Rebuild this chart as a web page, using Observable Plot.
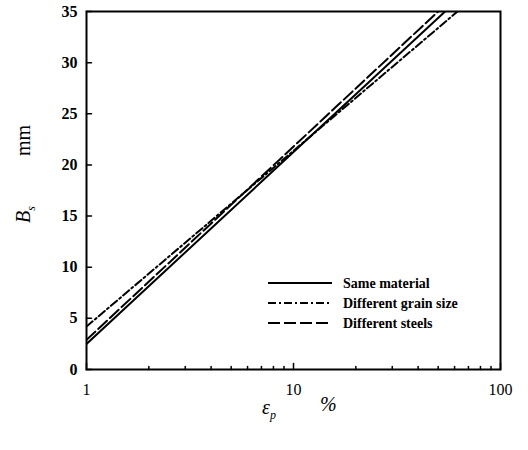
<!DOCTYPE html>
<html><head><meta charset="utf-8">
<script src="https://cdn.jsdelivr.net/npm/d3@7"></script>
<script src="https://cdn.jsdelivr.net/npm/@observablehq/plot@0.6"></script>
<style>body{margin:0;background:#fff}</style>
</head><body><div id="chart"></div>
<script>
const seriesNames = ["Same material", "Different grain size", "Different steels"];
const strainX = {
  "Same material": [1, 54],
  "Different grain size": [1, 62],
  "Different steels": [1, 50]
};
const widthBs = {
  "Same material": [2.5, 35],
  "Different grain size": [4.2, 35],
  "Different steels": [2.9, 35]
};
const dashes = {
  "Same material": null,
  "Different grain size": "8,3,2,3",
  "Different steels": "12,4"
};
const xTicks = [1, 10, 100];
const xMinor = [2,3,4,5,6,7,8,9,20,30,40,50,60,70,80,90];
const yTicks = [0, 5, 10, 15, 20, 25, 30, 35];

const rows = [];
for (const s of seriesNames) strainX[s].forEach((x, i) => rows.push({series: s, x, y: widthBs[s][i]}));

const font = "Liberation Serif, DejaVu Serif, serif";
const tickShape = {draw(ctx, l) { ctx.moveTo(0, 0); ctx.lineTo(0, -l); }};
const marks = [];
for (const s of seriesNames) {
  marks.push(Plot.line(rows.filter(d => d.series === s), {x: "x", y: "y", stroke: "black", strokeWidth: 2, strokeDasharray: dashes[s], clip: true}));
}
marks.push(
  Plot.axisX({ticks: xTicks, tickSize: 0, tickFormat: d => String(d), fontSize: 16, tickPadding: 14, anchor: "bottom"}),
  Plot.vector(xTicks, {x: d => d, frameAnchor: "bottom", length: 6, rotate: 0, anchor: "start", shape: tickShape, strokeWidth: 1.5}),
  Plot.vector(xMinor, {x: d => d, frameAnchor: "bottom", length: 3, rotate: 0, anchor: "start", shape: tickShape, strokeWidth: 1.5}),
  Plot.axisY({ticks: yTicks, tickSize: 0, fontSize: 16, tickPadding: 9, anchor: "left", fontWeight: "bold"}),
  Plot.vector(yTicks, {y: d => d, frameAnchor: "left", length: 5, rotate: 90, anchor: "start", shape: tickShape, strokeWidth: 1.5}),
  Plot.frame({stroke: "black", strokeWidth: 2})
);

const chart = Plot.plot({
  width: 528, height: 450,
  marginLeft: 86, marginRight: 28, marginTop: 11, marginBottom: 81,
  style: {fontFamily: font, background: "white", color: "black"},
  x: {type: "log", domain: [1, 100], label: null},
  y: {domain: [0, 35], label: null},
  marks
});
document.getElementById("chart").appendChild(chart);

const svg = d3.select(chart);
// Legend
const leg = svg.append("g").attr("font-family", font).attr("font-size", 14).attr("font-weight", "bold").attr("text-anchor", "start");
seriesNames.forEach((s, i) => {
  const y = 283 + i * 20;
  leg.append("line").attr("x1", 268).attr("x2", 332).attr("y1", y).attr("y2", y)
    .attr("stroke", "black").attr("stroke-width", 2).attr("stroke-dasharray", dashes[s]);
  leg.append("text").attr("x", 343).attr("y", y + 5).text(s);
});
// Axis labels
const xl = svg.append("text").attr("font-family", font).attr("font-size", 20).attr("font-style", "italic")
  .attr("text-anchor", "start").attr("x", 262).attr("y", 414);
xl.append("tspan").text("ε");
xl.append("tspan").attr("font-size", 12).attr("dy", 5).text("p");
svg.append("text").attr("font-family", font).attr("font-size", 20).attr("font-style", "italic")
  .attr("text-anchor", "start").attr("x", 320).attr("y", 411).text("%");
const yl = svg.append("text").attr("font-family", font).attr("font-size", 20).attr("text-anchor", "start")
  .attr("transform", "translate(30,223) rotate(-90)");
yl.append("tspan").attr("font-style", "italic").text("B");
yl.append("tspan").attr("font-style", "italic").attr("font-size", 12).attr("dy", 5).text("s");
yl.append("tspan").attr("dy", -5).attr("dx", 50).text("mm");
</script>
</body></html>
